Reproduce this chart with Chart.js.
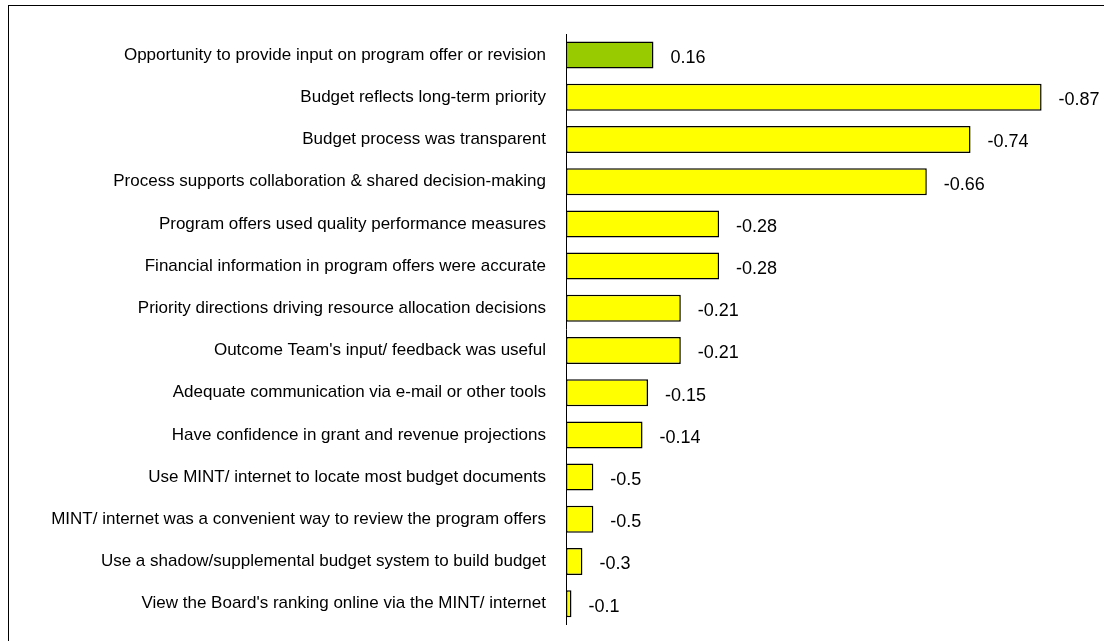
<!DOCTYPE html>
<html>
<head>
<meta charset="utf-8">
<script src="https://cdn.jsdelivr.net/npm/chart.js@4/dist/chart.umd.min.js"></script>
<style>
  html, body { margin:0; padding:0; background:#fff; }
  #wrap { position:relative; width:1104px; height:641px; overflow:hidden; }
  #frame { position:absolute; left:8px; top:5px; width:1200px; height:700px;
           border-left:1px solid #000; border-top:1px solid #000; pointer-events:none; }
  canvas { position:absolute; left:0; top:0; }
</style>
</head>
<body>
<div id="wrap">
  <canvas id="chart" width="1104" height="655"></canvas>
  <div id="frame"></div>
</div>
<script>
// Datos
const categories = [
  'Opportunity to provide input on program offer or revision',
  'Budget reflects long-term priority',
  'Budget process was transparent',
  'Process supports collaboration & shared decision-making',
  'Program offers used quality performance measures',
  'Financial information in program offers were accurate',
  'Priority directions driving resource allocation decisions',
  "Outcome Team's input/ feedback was useful",
  'Adequate communication via e-mail or other tools',
  'Have confidence in grant and revenue projections',
  'Use MINT/ internet to locate most budget documents',
  'MINT/ internet was a convenient way to review the program offers',
  'Use a shadow/supplemental budget system to build budget',
  "View the Board's ranking online via the MINT/ internet"
];
// largo de barra (magnitud) y etiqueta mostrada
const barValues = [0.16, 0.87, 0.74, 0.66, 0.28, 0.28, 0.21, 0.21, 0.15, 0.14, 0.05, 0.05, 0.03, 0.01];
const valueLabels = ['0.16', '-0.87', '-0.74', '-0.66', '-0.28', '-0.28', '-0.21', '-0.21', '-0.15', '-0.14', '-0.5', '-0.5', '-0.3', '-0.1'];

const barColors = barValues.map((v, i) => i === 0 ? '#99CC00' : '#FFFF00');
const FAMILY = 'Liberation Sans, Arial, sans-serif';

// etiquetas de valor al final de cada barra
const valueLabelPlugin = {
  id: 'valueLabels',
  afterDatasetsDraw(chart) {
    const ctx = chart.ctx;
    const meta = chart.getDatasetMeta(0);
    ctx.save();
    ctx.fillStyle = '#000';
    ctx.font = '18px ' + FAMILY;
    ctx.textAlign = 'left';
    ctx.textBaseline = 'middle';
    meta.data.forEach((bar, i) => {
      ctx.fillText(valueLabels[i], bar.x + 17, bar.y + 3);
    });
    ctx.restore();
  }
};

new Chart(document.getElementById('chart'), {
  type: 'bar',
  data: {
    labels: categories,
    datasets: [{
      data: barValues,
      backgroundColor: barColors,
      borderColor: '#000',
      borderWidth: 1.5,
      borderSkipped: false,
      barPercentage: 0.64,
      categoryPercentage: 1
    }]
  },
  options: {
    indexAxis: 'y',
    responsive: false,
    animation: false,
    layout: { padding: { top: 34, bottom: 0, right: 46, left: 0 } },
    plugins: { legend: { display: false }, tooltip: { enabled: false } },
    scales: {
      x: { display: false, min: 0, max: 0.9 },
      y: {
        afterFit(scale) { scale.width = 566; },
        grid: { display: false, drawTicks: false },
        border: { display: true, color: '#000', width: 1 },
        ticks: { color: '#000', font: { family: FAMILY, size: 17 }, padding: 20, autoSkip: false }
      }
    }
  },
  plugins: [valueLabelPlugin]
});
</script>
</body>
</html>
